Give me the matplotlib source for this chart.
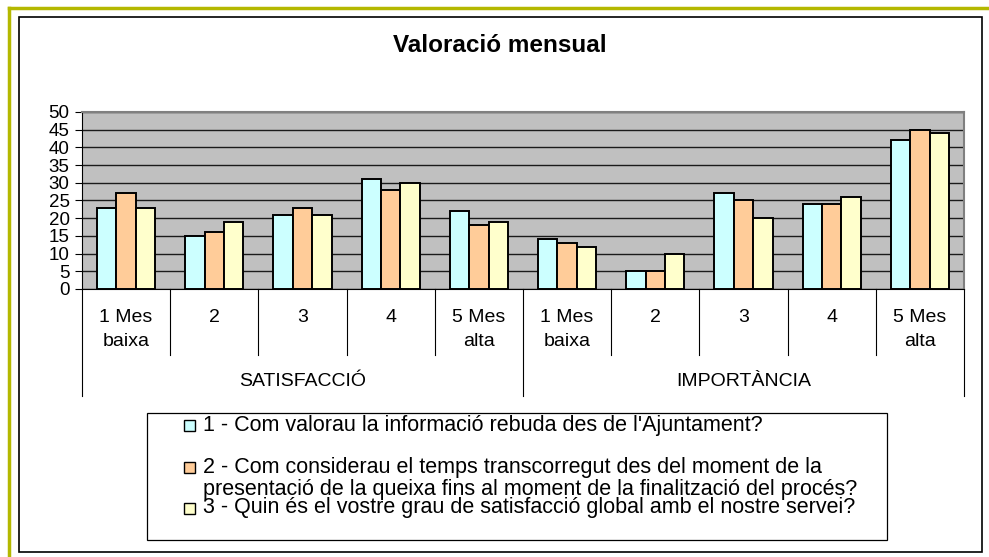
import matplotlib
matplotlib.use("Agg")
import matplotlib.pyplot as plt
from matplotlib.patches import Rectangle
from matplotlib.lines import Line2D
from matplotlib.transforms import blended_transform_factory
import numpy as np

plt.rcParams["font.family"] = ["Liberation Sans", "DejaVu Sans"]

W, H = 989, 557

groups = ["SATISFACCIÓ", "IMPORTÀNCIA"]
levels = ["1 Mes\nbaixa", "2", "3", "4", "5 Mes\nalta"]
series_names = [
    "1 - Com valorau la informació rebuda des de l'Ajuntament?",
    "2 - Com considerau el temps transcorregut des del moment de la\n"
    "presentació de la queixa fins al moment de la finalització del procés?",
    "3 - Quin és el vostre grau de satisfacció global amb el nostre servei?",
]
q1 = [23, 15, 21, 31, 22, 14, 5, 27, 24, 42]
q2 = [27, 16, 23, 28, 18, 13, 5, 25, 24, 45]
q3 = [23, 19, 21, 30, 19, 12, 10, 20, 26, 44]
colors = ["#ccffff", "#ffcc99", "#ffffcc"]


def px(x0, y0, x1, y1):
    """pixel box (top-left origin) -> figure fraction rect"""
    return [x0 / W, 1 - y1 / H, (x1 - x0) / W, (y1 - y0) / H]


def fy(y):
    return 1 - y / H


fig = plt.figure(figsize=(W / 100, H / 100), dpi=100)
fig.patch.set_facecolor("white")

# olive outer edge (top and left) and black inner frame
fig.add_artist(Line2D([9 / W, 1], [fy(8)] * 2, color="#b4b800", lw=2.5))
fig.add_artist(Line2D([9 / W] * 2, [0, fy(8)], color="#b4b800", lw=2.5))
fig.add_artist(Rectangle((19 / W, fy(552)), (982 - 19) / W, (552 - 17) / H,
                         transform=fig.transFigure, fill=False,
                         edgecolor="black", lw=1.2))

fig.text(500 / W, fy(45), "Valoració mensual", ha="center", va="center",
         fontsize=17.5, fontweight="bold")

ax = fig.add_axes(px(82, 112, 964, 289))
ax.set_facecolor("#c0c0c0")
n = len(q1)
x = np.arange(n)
bw = 0.22
for i, (vals, c) in enumerate(zip([q1, q2, q3], colors)):
    ax.bar(x + (i - 1) * bw, vals, width=bw, color=c, edgecolor="black",
           linewidth=1.4, zorder=3)

ax.set_xlim(-0.5, n - 0.5)
ax.set_ylim(0, 50)
ax.set_yticks(range(0, 51, 5))
ax.yaxis.grid(True, color="#1a1a1a", lw=1.0, zorder=1)
ax.set_axisbelow(True)
ax.tick_params(axis="y", labelsize=13.5, length=5, pad=4, width=0.8)
ax.set_xticks([])
for s in ["top", "right"]:
    ax.spines[s].set_color("#808080")
    ax.spines[s].set_linewidth(1.5)
ax.spines["left"].set_color("black")
ax.spines["bottom"].set_color("black")

# multi-level category axis below the plot
trans = blended_transform_factory(ax.transData, fig.transFigure)
for k in range(n + 1):
    bottom = fy(396) if k % 5 == 0 else fy(355)
    ax.plot([k - 0.5, k - 0.5], [fy(289), bottom], color="black", lw=0.8,
            transform=trans, clip_on=False)
for k in range(n):
    for j, part in enumerate(levels[k % 5].split("\n")):
        ax.text(k, fy(317 + 25 * j), part, transform=trans, ha="center",
                va="center", fontsize=14)
for g, name in enumerate(groups):
    ax.text(g * 5 + 2, fy(382), name, transform=trans, ha="center",
            va="center", fontsize=14)

# legend box
fig.add_artist(Rectangle((147 / W, fy(540)), (887 - 147) / W, (540 - 413) / H,
                         transform=fig.transFigure, fill=True, facecolor="white",
                         edgecolor="black", lw=0.9))
entry_y = [425, 467, 508]
for name, c, yy in zip(series_names, colors, entry_y):
    fig.add_artist(Rectangle((184 / W, fy(yy + 5.5)), 11 / W, 11 / H,
                             transform=fig.transFigure, facecolor=c,
                             edgecolor="black", lw=1.0))
    for j, part in enumerate(name.split("\n")):
        fig.text(203 / W, fy(yy + 22 * j), part, ha="left", va="center",
                 fontsize=15.5)

fig.savefig("out.png", dpi=100, facecolor="white")
